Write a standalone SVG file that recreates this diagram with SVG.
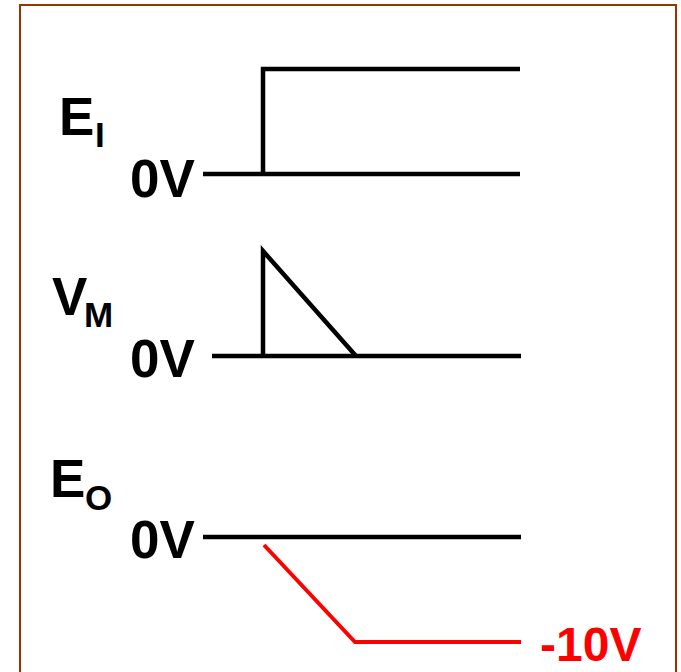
<svg xmlns="http://www.w3.org/2000/svg" width="681" height="672" viewBox="0 0 681 672">
<style>
.lbl{font-family:"Liberation Sans",Arial,sans-serif;font-weight:bold;fill:#000}
.big{font-size:53px}
.sub{font-size:35px}
.red{fill:#ff0000;font-size:48px}
.wave{fill:none;stroke:#000;stroke-width:4.5;stroke-linejoin:miter;stroke-linecap:butt}
.out{fill:none;stroke:#ff0000;stroke-width:4;stroke-linejoin:miter}
</style>
<rect x="0" y="0" width="681" height="672" fill="#fff"/>
<rect id="frame" x="20" y="5" width="656" height="700" fill="none" stroke="#993300" stroke-width="2"/>
<g id="ei">
<text class="lbl big" x="59" y="135">E</text>
<text class="lbl sub" x="95" y="147">I</text>
<text class="lbl big" x="130" y="197">0V</text>
</g>
<g id="vm">
<text class="lbl big" x="52" y="315">V</text>
<text class="lbl sub" x="84" y="327">M</text>
<text class="lbl big" x="130" y="377">0V</text>
</g>
<g id="eo">
<text class="lbl big" x="50" y="497">E</text>
<text class="lbl sub" x="85" y="510">O</text>
<text class="lbl big" x="130" y="558">0V</text>
<text class="lbl red" x="540" y="661">-10V</text>
</g>
<g id="connectors">
<line class="wave" x1="203" y1="174" x2="520" y2="174"/>
<polyline class="wave" points="263,176 263,69 520,69"/>
<line class="wave" x1="212" y1="356" x2="521" y2="356"/>
<polyline class="wave" points="263,358 263,251 356,356"/>
<line class="wave" x1="203" y1="537" x2="521" y2="537" stroke-width="5"/>
<polyline class="out" points="264,545 355,642 521,642"/>
</g>
</svg>
